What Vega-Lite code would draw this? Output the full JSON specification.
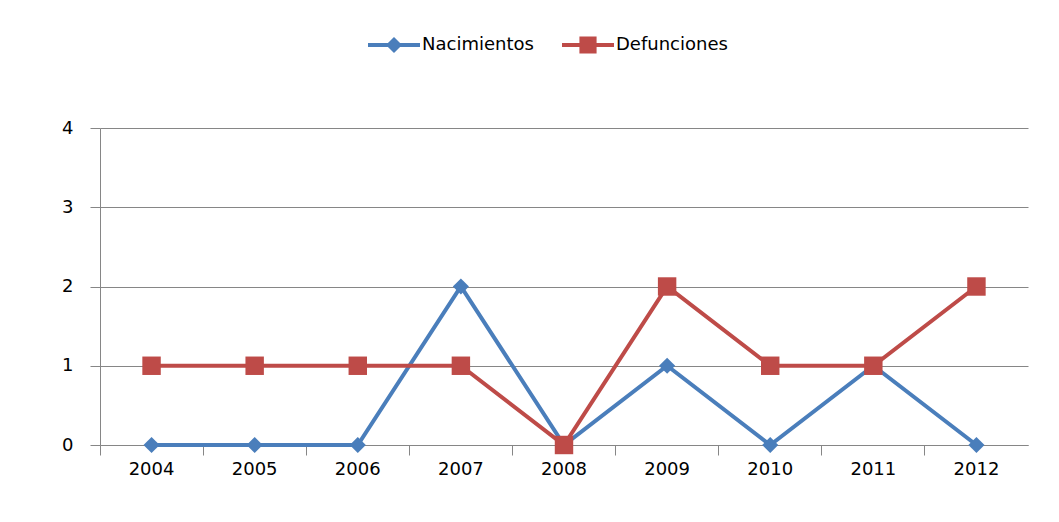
{
  "$schema": "https://vega.github.io/schema/vega-lite/v6.json",
  "autosize": {"type": "none"},
  "width": 928,
  "height": 317,
  "padding": {"left": 100, "top": 128, "right": 31, "bottom": 77},
  "background": "#ffffff",
  "config": {
    "view": {"stroke": null},
    "font": "DejaVu Sans"
  },
  "data": {
    "values": [
      {"year": "2004", "serie": "Nacimientos", "valor": 0},
      {"year": "2005", "serie": "Nacimientos", "valor": 0},
      {"year": "2006", "serie": "Nacimientos", "valor": 0},
      {"year": "2007", "serie": "Nacimientos", "valor": 2},
      {"year": "2008", "serie": "Nacimientos", "valor": 0},
      {"year": "2009", "serie": "Nacimientos", "valor": 1},
      {"year": "2010", "serie": "Nacimientos", "valor": 0},
      {"year": "2011", "serie": "Nacimientos", "valor": 1},
      {"year": "2012", "serie": "Nacimientos", "valor": 0},
      {"year": "2004", "serie": "Defunciones", "valor": 1},
      {"year": "2005", "serie": "Defunciones", "valor": 1},
      {"year": "2006", "serie": "Defunciones", "valor": 1},
      {"year": "2007", "serie": "Defunciones", "valor": 1},
      {"year": "2008", "serie": "Defunciones", "valor": 0},
      {"year": "2009", "serie": "Defunciones", "valor": 2},
      {"year": "2010", "serie": "Defunciones", "valor": 1},
      {"year": "2011", "serie": "Defunciones", "valor": 1},
      {"year": "2012", "serie": "Defunciones", "valor": 2}
    ]
  },
  "encoding": {
    "x": {
      "field": "year",
      "type": "ordinal",
      "scale": {"type": "band", "paddingInner": 0, "paddingOuter": 0},
      "axis": {
        "title": null,
        "labelAngle": 0,
        "bandPosition": 0,
        "labelFontSize": 18,
        "labelColor": "#000000",
        "labelPadding": 5,
        "domainColor": "#868686",
        "tickColor": "#868686",
        "tickSize": 10,
        "grid": false
      }
    },
    "y": {
      "field": "valor",
      "type": "quantitative",
      "scale": {"domain": [0, 4], "nice": false},
      "axis": {
        "title": null,
        "values": [0, 1, 2, 3, 4],
        "format": "d",
        "labelFontSize": 18,
        "labelColor": "#000000",
        "labelPadding": 17,
        "domainColor": "#868686",
        "tickColor": "#868686",
        "tickSize": 10,
        "gridColor": "#868686",
        "grid": true
      }
    }
  },
  "layer": [
    {
      "mark": {"type": "line", "strokeWidth": 4},
      "encoding": {
        "color": {
          "field": "serie",
          "type": "nominal",
          "sort": ["Nacimientos", "Defunciones"],
          "scale": {"domain": ["Nacimientos", "Defunciones"], "range": ["#4A7EBB", "#BE4B48"]},
          "legend": {
            "orient": "none",
            "legendX": 268,
            "legendY": -109,
            "direction": "horizontal",
            "title": null,
            "symbolSize": 2704,
            "labelFontSize": 18,
            "labelColor": "#000000",
            "columnPadding": 28,
            "labelOffset": 2,
            "encode": {
              "symbols": {
                "update": {
                  "shape": {"signal": "datum.value === 'Nacimientos' ? 'M-1,-0.075H1V0.075H-1Z M0,-0.31L0.31,0L0,0.31L-0.31,0Z' : 'M-1,-0.075H1V0.075H-1Z M-0.33,-0.33H0.33V0.33H-0.33Z'"},
                  "fill": {"signal": "datum.value === 'Nacimientos' ? '#4A7EBB' : '#BE4B48'"},
                  "fillOpacity": {"value": 1},
                  "strokeWidth": {"value": 0},
                  "opacity": {"value": 1}
                }
              }
            }
          }
        }
      }
    },
    {
      "transform": [{"filter": "datum.serie === 'Nacimientos'"}],
      "mark": {"type": "point", "filled": true, "opacity": 1, "shape": "diamond", "size": 260, "color": "#4A7EBB"}
    },
    {
      "transform": [{"filter": "datum.serie === 'Defunciones'"}],
      "mark": {"type": "point", "filled": true, "opacity": 1, "shape": "square", "size": 340, "color": "#BE4B48"}
    }
  ]
}
